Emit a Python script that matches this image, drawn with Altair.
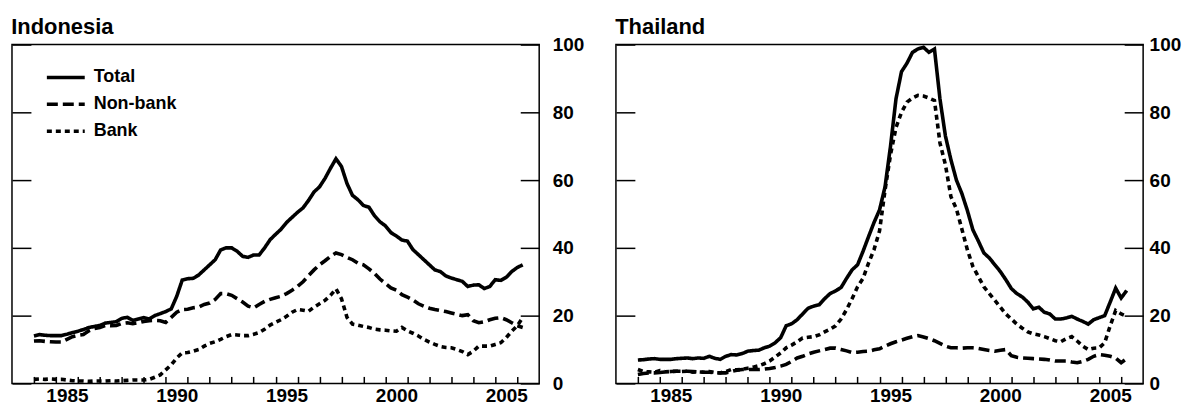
import altair as alt
import pandas as pd

FONT = "Liberation Sans"
W, H = 529, 340

# quarterly observations, 1984Q1 .. 2006Q2
quarters = [1984 + q / 4 for q in range(90)]
SERIES = ["Total", "Non-bank", "Bank"]

indo_total = [14.0, 14.4, 14.2, 14.1, 14.1, 14.1, 14.5, 15.0, 15.4, 15.9, 16.5, 16.8,
              17.1, 17.8, 18.0, 18.2, 19.2, 19.5, 18.6, 19.0, 19.4, 19.0, 20.0, 20.6,
              21.2, 22.0, 25.7, 30.5, 30.9, 31.0, 32.0, 33.5, 35.0, 36.5, 39.4, 40.0,
              40.0, 39.0, 37.5, 37.2, 37.9, 37.9, 40.0, 42.4, 44.0, 45.5, 47.5, 49.0,
              50.5, 51.8, 54.0, 56.5, 58.0, 60.5, 63.5, 66.3, 64.0, 59.0, 55.5, 54.2,
              52.5, 52.0, 49.5, 47.7, 46.5, 44.5, 43.5, 42.3, 42.0, 39.5, 38.0, 36.5,
              35.0, 33.5, 33.0, 31.7, 31.1, 30.6, 30.1, 28.6, 29.0, 29.1, 28.0, 28.6,
              30.6, 30.4, 31.3, 33.0, 34.2, 35.0]
indo_nonbank = [12.5, 12.6, 12.4, 12.3, 12.2, 12.2, 13.0, 13.8, 14.2, 14.4, 15.5, 16.2,
                16.5, 17.1, 17.0, 17.1, 17.7, 17.9, 17.6, 17.9, 18.3, 18.5, 18.6, 18.5,
                18.0, 19.5, 21.0, 21.8, 21.9, 22.3, 22.5, 23.3, 23.7, 24.8, 26.5, 26.5,
                26.0, 25.0, 24.0, 22.8, 22.3, 23.3, 24.2, 24.8, 25.3, 25.7, 26.5, 27.5,
                28.6, 30.0, 31.8, 33.5, 35.0, 36.2, 37.5, 38.5, 38.0, 37.2, 36.5, 35.5,
                35.0, 33.8, 32.5, 30.8, 29.5, 28.2, 27.5, 26.2, 25.5, 24.6, 23.5, 22.8,
                22.2, 21.8, 21.5, 21.2, 20.8, 20.4, 20.0, 20.3, 18.5, 17.9, 18.2, 18.8,
                19.2, 19.4, 18.8, 17.9, 17.0, 16.5]
indo_bank = [1.2, 1.3, 1.2, 1.3, 1.2, 1.2, 1.0, 0.8, 0.7, 0.7, 0.6, 0.7,
             0.7, 0.7, 0.8, 0.7, 0.8, 0.9, 1.0, 1.0, 1.0, 1.2, 1.8, 2.5,
             4.0, 5.5, 7.5, 9.0, 9.1, 9.5, 10.0, 11.0, 11.8, 12.3, 13.0, 13.8,
             14.4, 14.3, 14.1, 14.1, 14.5, 15.0, 16.0, 17.2, 18.0, 18.8, 19.8, 21.0,
             21.8, 21.6, 21.3, 22.5, 23.5, 24.5, 26.0, 27.9, 25.0, 19.5, 17.5, 17.2,
             16.8, 16.5, 16.0, 15.8, 15.7, 15.5, 15.4, 16.5, 15.5, 14.8, 14.0, 13.0,
             12.2, 11.5, 10.9, 10.6, 10.5, 10.0, 9.4, 8.5, 9.5, 11.0, 11.0, 11.0,
             11.5, 12.0, 13.5, 15.4, 17.0, 19.4]

thai_total = [6.9, 7.0, 7.2, 7.3, 7.1, 7.1, 7.1, 7.3, 7.4, 7.5, 7.3, 7.5,
              7.4, 8.0, 7.4, 7.1, 8.0, 8.5, 8.4, 8.8, 9.5, 9.7, 9.8, 10.5,
              11.0, 12.0, 13.5, 17.0, 17.6, 18.8, 20.5, 22.2, 22.8, 23.2, 25.0, 26.5,
              27.3, 28.3, 31.0, 33.5, 35.0, 39.0, 43.3, 47.5, 51.2, 58.0, 70.0, 84.0,
              92.0, 94.5, 97.7, 98.7, 99.2, 97.7, 98.7, 84.0, 73.0, 66.0, 60.0, 56.0,
              51.0, 45.3, 42.0, 38.5, 37.0, 35.0, 33.0, 30.6, 28.0, 26.5, 25.5, 24.0,
              22.0, 22.5, 21.0, 20.5, 19.0, 19.0, 19.3, 19.8, 19.0, 18.3, 17.5, 18.8,
              19.4, 20.0, 24.0, 28.1, 25.2, 27.4]
thai_nonbank = [2.6, 2.9, 3.1, 3.1, 3.2, 3.4, 3.5, 3.6, 3.6, 3.6, 3.5, 3.4,
                3.3, 3.3, 3.2, 3.1, 3.1, 3.5, 3.9, 4.1, 4.1, 4.1, 4.1, 4.2,
                4.4, 4.7, 5.1, 5.6, 6.5, 7.5, 8.0, 8.7, 9.2, 9.6, 10.0, 10.4,
                10.4, 10.0, 9.6, 9.1, 9.2, 9.4, 9.5, 9.9, 10.2, 11.0, 11.7, 12.3,
                12.8, 13.3, 13.8, 14.1, 13.7, 13.2, 12.6, 11.8, 11.0, 10.5, 10.5, 10.4,
                10.5, 10.5, 10.3, 10.0, 9.7, 9.5, 9.8, 10.0, 8.2, 7.7, 7.5, 7.4,
                7.3, 7.2, 7.1, 6.9, 6.6, 6.6, 6.6, 6.3, 6.1, 6.5, 7.1, 8.0,
                8.5, 8.3, 8.0, 7.5, 6.1, 7.3]
thai_bank = [4.1, 3.5, 3.4, 3.3, 3.8, 3.4, 3.5, 3.6, 3.5, 3.6, 3.3, 3.4,
             3.3, 3.5, 3.2, 3.1, 3.5, 4.1, 4.0, 4.1, 4.5, 4.8, 5.2, 5.8,
             6.6, 7.8, 9.0, 10.5, 11.3, 12.3, 13.4, 13.6, 13.8, 14.3, 15.2, 16.0,
             17.0, 19.0, 21.8, 25.0, 28.5, 31.0, 35.5, 39.5, 45.0, 57.0, 67.5, 75.5,
             80.0, 83.0, 84.2, 85.0, 84.8, 84.2, 83.5, 71.0, 64.5, 55.1, 51.5, 45.5,
             39.4, 34.5, 31.5, 28.5, 26.5, 24.5, 22.5, 20.5, 19.0, 17.5, 16.3, 15.2,
             14.6, 14.3, 13.8, 13.2, 12.6, 12.3, 13.2, 13.8, 12.5, 11.0, 10.0, 10.4,
             10.5, 12.0, 17.0, 21.5, 20.5, 19.8]

y_ticks = [0, 20, 40, 60, 80, 100]
year_ticks = list(range(1984, 2007))
label_years = [1985, 1990, 1995, 2000, 2005]
label_pos = [y + 0.5 for y in label_years]


def panel(name, total, nonbank, bank, show_legend, ylab_pad):
    n = len(quarters)
    df = pd.DataFrame({
        "t": quarters * 3,
        "value": total + nonbank + bank,
        "series": ["Total"] * n + ["Non-bank"] * n + ["Bank"] * n,
    })
    xs = alt.Scale(domain=[1983, 2007], nice=False, zero=False)
    ys = alt.Scale(domain=[0, 100], nice=False)
    if show_legend:
        legend = alt.Legend(
            orient="none", legendX=37, legendY=16, title=None,
            symbolType="M-1.267,0H1.267", symbolSize=900, symbolStrokeWidth=3.5,
            symbolStrokeColor="black", labelFont=FONT, labelFontSize=18,
            labelFontWeight="bold", labelColor="black", labelOffset=11,
            rowPadding=1, labelLimit=300)
    else:
        legend = None
    lines = alt.Chart(df).mark_line(color="black", strokeWidth=3.6, strokeCap="butt").encode(
        x=alt.X("t:Q", scale=xs, axis=alt.Axis(
            orient="bottom", values=label_pos, labelExpr="floor(datum.value)",
            ticks=False, domain=False, grid=False, labelPadding=3, labelFlush=False,
            labelOverlap=False, title=None)),
        y=alt.Y("value:Q", scale=ys, axis=alt.Axis(
            orient="right", values=y_ticks, ticks=False, domain=False, grid=False,
            labelPadding=ylab_pad, labelFlush=False, title=None)),
        strokeDash=alt.StrokeDash("series:N", scale=alt.Scale(
            domain=SERIES, range=[[1, 0], [11, 5], [5, 4]]), legend=legend, sort=SERIES),
    )
    ax2 = alt.Chart(df).mark_line(strokeOpacity=0).encode(
        x=alt.X("t:Q", scale=xs, axis=alt.Axis(
            orient="bottom", offset=-7, values=year_ticks, labels=False, tickSize=7,
            tickWidth=1.5, tickColor="black", domain=False, grid=False, title=None,
            minExtent=0, maxExtent=0)),
        y=alt.Y("value:Q", scale=ys, axis=alt.Axis(
            orient="left", offset=-W, values=y_ticks, labels=False, tickSize=19,
            tickWidth=1.5, tickColor="black", domain=False, grid=False, title=None,
            minExtent=0, maxExtent=0)),
        detail="series:N",
    )
    ax3 = alt.Chart(df).mark_line(strokeOpacity=0).encode(
        x=alt.X("t:Q", scale=xs, axis=None),
        y=alt.Y("value:Q", scale=ys, axis=alt.Axis(
            orient="right", offset=-W, values=y_ticks, labels=False, tickSize=19,
            tickWidth=1.5, tickColor="black", domain=False, grid=False, title=None,
            minExtent=0, maxExtent=0)),
        detail="series:N",
    )
    return alt.layer(lines, ax2, ax3).resolve_axis(x="independent", y="independent").properties(
        width=W, height=H,
        title=alt.TitleParams(name, anchor="start", font=FONT, fontSize=22,
                              fontWeight="bold", color="black", offset=-3),
    )


left = panel("Indonesia", indo_total, indo_nonbank, indo_bank, True, 13)
right = panel("Thailand", thai_total, thai_nonbank, thai_bank, False, 6)

chart = alt.hconcat(left, right, spacing=29).properties(
    padding={"left": 2, "top": 6, "right": 0, "bottom": 0}
).configure_view(stroke="black", strokeWidth=1.5).configure_axis(
    labelFont=FONT, labelFontSize=19, labelFontWeight="bold", labelColor="black"
)

chart.save("out.html", embed_options={"renderer": "svg", "actions": False})
